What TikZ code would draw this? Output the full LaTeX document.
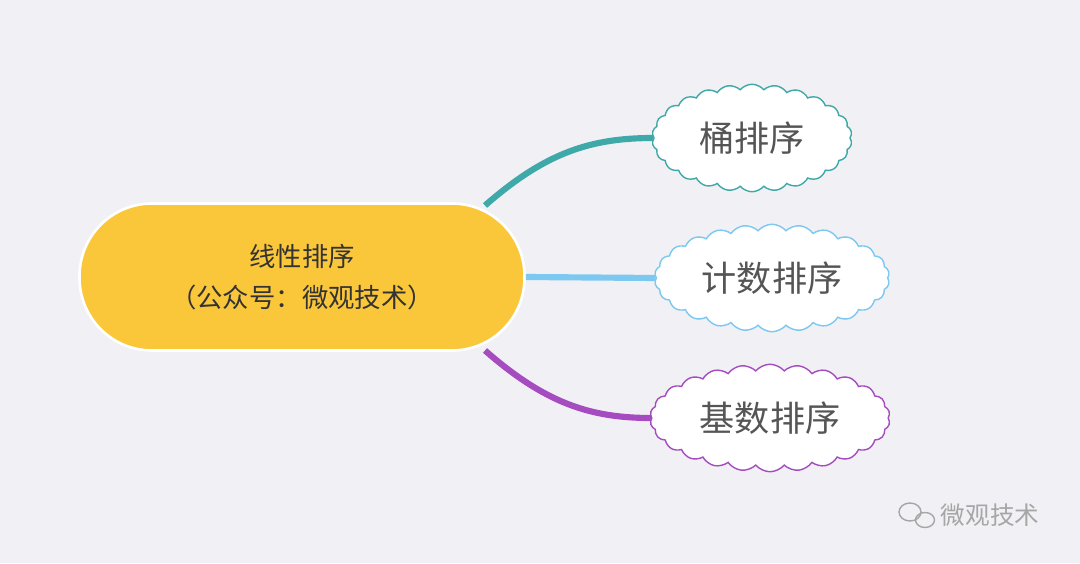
\documentclass[tikz,border=0pt]{standalone}
\usepackage{fontspec}
\setmainfont{Noto Sans CJK SC}
\usetikzlibrary{shapes.symbols, positioning}
\definecolor{bgcol}{HTML}{F1F0F5}
\definecolor{rootcol}{HTML}{FBC73A}
\definecolor{tealcol}{HTML}{3FA8A8}
\definecolor{skycol}{HTML}{7CC8F0}
\definecolor{purplecol}{HTML}{A54CC0}
\definecolor{textcol}{HTML}{555555}
\tikzset{
  leaf/.style={cloud, cloud puffs=26, cloud puff arc=100, aspect=2.1, fill=white, draw=#1, line width=0.8pt,
    minimum width=4.0cm, minimum height=2.15cm, inner sep=0pt, text=textcol, font=\fontsize{20}{24}\selectfont},
  branch/.style={line width=3.5pt, draw=#1}
}
\begin{document}
\begin{tikzpicture}
	\fill[bgcol] (0,0) rectangle (21.6,11.26);
	\useasboundingbox (0,0) rectangle (21.6,11.26);
	\node[fill=rootcol, draw=white, line width=1.5pt, rounded corners=1.45cm, minimum width=8.9cm, minimum height=2.94cm,
	  align=center, text=black!80, font=\fontsize{15}{23}\selectfont] (root) at (6.04, 5.72) {线性排序\\（公众号：微观技术）};
	\node[leaf=tealcol] (bucket) at (15.04, 8.5) {桶排序};
	\node[leaf=skycol, minimum width=4.7cm] (count) at (15.44, 5.7) {计数排序};
	\node[leaf=purplecol, minimum width=4.8cm] (radix) at (15.4, 2.9) {基数排序};
	\draw[branch=tealcol] (9.7, 7.15) .. controls (10.9, 8.2) and (11.8, 8.5) .. (bucket.west);
	\draw[branch=skycol] (root.east) -- (count.west);
	\draw[branch=purplecol] (9.7, 4.25) .. controls (10.9, 3.2) and (11.8, 2.9) .. (radix.west);
	% watermark
	\node[text=gray!70, font=\fontsize{14}{16}\selectfont] (mark) at (19.8, 0.96) {微观技术};
	\draw[gray!70, line width=0.8pt] (18.2, 1.02) ellipse (0.22 and 0.18);
	\draw[gray!70, line width=0.8pt] (18.5, 0.86) ellipse (0.19 and 0.15);
\end{tikzpicture}
\end{document}
